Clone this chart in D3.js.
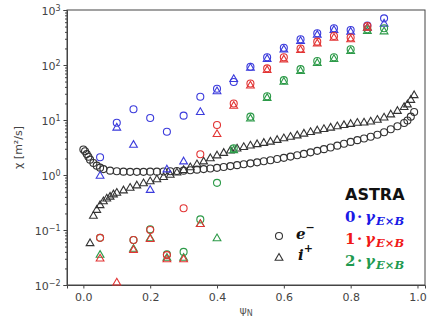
<!DOCTYPE html>
<html>
<head>
<meta charset="utf-8">
<script src="https://cdn.jsdelivr.net/npm/d3@7"></script>
<style>
  body { margin: 0; background: #fff; }
  svg { display: block; }
  .tick text { font-family: "DejaVu Sans", sans-serif; fill: #444; }
</style>
</head>
<body>
<svg id="chart"></svg>
<script>

// ---- DATA ----

// experimental-like profiles (black)
const psiE = [0.0, 0.005, 0.01, 0.015, 0.02, 0.03, 0.04, 0.05, 0.06, 0.08,
  0.10, 0.12, 0.14, 0.16, 0.18, 0.20, 0.22, 0.24, 0.26, 0.28,
  0.30, 0.32, 0.34, 0.36, 0.38, 0.40, 0.42, 0.44, 0.46, 0.48,
  0.50, 0.52, 0.54, 0.56, 0.58, 0.60, 0.62, 0.64, 0.66, 0.68,
  0.70, 0.72, 0.74, 0.76, 0.78, 0.80, 0.82, 0.84, 0.86, 0.88,
  0.90, 0.92, 0.94, 0.96, 0.97, 0.98, 0.99];
const chiE = [2.9, 2.7, 2.4, 2.15, 1.9, 1.65, 1.48, 1.36, 1.28, 1.2,
  1.17, 1.15, 1.14, 1.14, 1.14, 1.15, 1.15, 1.16, 1.17, 1.18,
  1.2, 1.22, 1.25, 1.28, 1.31, 1.35, 1.4, 1.45, 1.51, 1.57,
  1.63, 1.7, 1.78, 1.86, 1.95, 2.05, 2.16, 2.28, 2.42, 2.58,
  2.75, 2.95, 3.17, 3.42, 3.7, 4.0, 4.3, 4.6, 4.95, 5.4,
  6.0, 6.8, 7.7, 8.8, 9.8, 11.5, 14];

const psiI = [0.02, 0.03, 0.04, 0.05, 0.06, 0.07, 0.08, 0.09, 0.10, 0.12,
  0.14, 0.16, 0.18, 0.20, 0.22, 0.24, 0.26, 0.28, 0.30, 0.32,
  0.34, 0.36, 0.38, 0.40, 0.42, 0.44, 0.46, 0.48, 0.50, 0.52,
  0.54, 0.56, 0.58, 0.60, 0.62, 0.64, 0.66, 0.68, 0.70, 0.72,
  0.74, 0.76, 0.78, 0.80, 0.82, 0.84, 0.86, 0.88, 0.90, 0.92,
  0.94, 0.96, 0.97, 0.98, 0.99];
const chiI = [0.057, 0.18, 0.23, 0.28, 0.33, 0.37, 0.40, 0.44, 0.47, 0.52,
  0.58, 0.64, 0.70, 0.76, 0.83, 0.91, 1.0, 1.1, 1.22, 1.37,
  1.55, 1.75, 2.0, 2.25, 2.5, 2.75, 3.0, 3.2, 3.4, 3.6,
  3.8, 4.0, 4.3, 4.6, 4.9, 5.2, 5.6, 6.0, 6.4, 6.8,
  7.2, 7.6, 8.0, 8.4, 8.8, 8.9, 9.3, 10.0, 11, 12.5,
  14.5, 17, 19, 23, 28];

// ASTRA runs, one point every 0.05
const astraPsi = [0.05, 0.1, 0.15, 0.2, 0.25, 0.3, 0.35, 0.4, 0.45,
  0.5, 0.55, 0.6, 0.65, 0.7, 0.75, 0.8, 0.85, 0.9];

// 0 * gamma_ExB (blue)
const astraE0 = [2.1, 8.9, 15.7, 10.9, 6.1, 12, 26.5, 37, 49,
  93, 138, 206, 293, 377, 465, 433, 520, 705];
const astraI0 = [0.96, 7.2, 3.5, 0.53, 1.25, 1.75, 13.8, 33, 55,
  88, 128, 190, 270, 350, 430, 400, 470, 560];

// 1 * gamma_ExB (red)
const astraE1 = [0.072, null, 0.066, 0.1, 0.035, 0.248, 2.38, 8.1, 20,
  46, 87, 138, 200, 266, 337, 317, 510, null];
const astraI1 = [0.030, 0.011, 0.043, 0.068, 0.029, 0.029, 0.127, 5.5, 18,
  42, 80, 125, 185, 245, 310, 290, 470, null];

// 2 * gamma_ExB (green)
const astraE2 = [0.072, null, 0.066, 0.103, 0.036, 0.040, 0.156, 0.72, 3.05,
  11.5, 27, 53, 84, 118, 138, 193, 445, 466];
const astraI2 = [0.035, null, 0.045, 0.07, 0.031, 0.031, 0.127, 0.07, 2.8,
  10.5, 25, 49, 77, 108, 127, 178, 410, 405];

const xTicks = [0.0, 0.2, 0.4, 0.6, 0.8, 1.0];
const yTicks = [1e-2, 1e-1, 1e0, 1e1, 1e2, 1e3];

const colors = { black: "#333", blue: "#3b3bdc", red: "#e23434", green: "#2c9a48" };

// ---- LAYOUT ----
const width = 433, height = 321;
const plot = { left: 67, right: 425, top: 10, bottom: 285 };

const svg = d3.select("#chart")
  .attr("width", width)
  .attr("height", height);

const xScale = d3.scaleLinear()
  .domain([-0.049, 1.0225])
  .range([plot.left, plot.right]);

const yScale = d3.scaleLog()
  .domain([1e-2, 1e3])
  .range([plot.bottom, plot.top]);

// ---- AXES ----
const xAxisGroup = svg.append("g")
  .attr("transform", `translate(0, ${plot.bottom})`)
  .call(d3.axisBottom(xScale).tickValues(xTicks).tickFormat(d3.format(".1f"))
    .tickSize(3.5).tickPadding(5));
xAxisGroup.selectAll(".tick text").attr("font-size", 11);

// minor log ticks
const minor = [];
for (let e = -2; e < 3; e++) for (let m = 2; m < 10; m++) minor.push(m * Math.pow(10, e));

svg.append("g")
  .attr("transform", `translate(${plot.left}, 0)`)
  .call(d3.axisLeft(yScale).tickValues(minor).tickFormat("").tickSize(2))
  .call(g => g.select(".domain").remove());

const yAxisGroup = svg.append("g")
  .attr("transform", `translate(${plot.left}, 0)`)
  .call(d3.axisLeft(yScale).tickValues(yTicks).tickFormat("").tickSize(3.5).tickPadding(3));

yAxisGroup.selectAll(".tick text")
  .attr("font-size", 11)
  .attr("dy", "0.45em")
  .each(function(d) {
    const ex = Math.round(Math.log10(d));
    const t = d3.select(this);
    t.text("10");
    t.append("tspan")
      .attr("dy", "-0.55em")
      .attr("font-size", 8)
      .text(ex < 0 ? "\u2212" + (-ex) : ex);
  });

svg.selectAll(".domain").attr("stroke", "#444");
svg.selectAll(".tick line").attr("stroke", "#444");

// frame top and right
svg.append("rect")
  .attr("x", plot.left)
  .attr("y", plot.top)
  .attr("width", plot.right - plot.left)
  .attr("height", plot.bottom - plot.top)
  .attr("fill", "none")
  .attr("stroke", "#444")
  .attr("stroke-width", 1);

// axis labels
svg.append("text")
  .attr("transform", `translate(22, ${(plot.top + plot.bottom) / 2}) rotate(-90)`)
  .attr("text-anchor", "middle")
  .attr("font-family", "DejaVu Sans, sans-serif")
  .attr("font-size", 11)
  .attr("fill", "#444")
  .text("\u03c7 [m\u00b2/s]");

const xLabel = svg.append("text")
  .attr("x", 246)
  .attr("y", 314)
  .attr("text-anchor", "middle")
  .attr("font-family", "DejaVu Sans, sans-serif")
  .attr("font-size", 11)
  .attr("fill", "#555")
  .text("\u03c8");
xLabel.append("tspan").attr("font-size", 8).attr("dy", 2).text("N");

// ---- MARKERS ----
const tri = d3.symbol(d3.symbolTriangle, 26);

function drawCircles(cls, xs, ys, color) {
  const pts = xs.map((x, i) => ({ x, y: ys[i] })).filter(d => d.y != null);
  svg.selectAll("." + cls)
    .data(pts)
    .join("circle")
    .attr("class", cls)
    .attr("cx", d => xScale(d.x))
    .attr("cy", d => yScale(d.y))
    .attr("r", 3.5)
    .attr("fill", "none")
    .attr("stroke", color)
    .attr("stroke-width", 1.1);
}

function drawTriangles(cls, xs, ys, color) {
  const pts = xs.map((x, i) => ({ x, y: ys[i] })).filter(d => d.y != null);
  svg.selectAll("." + cls)
    .data(pts)
    .join("path")
    .attr("class", cls)
    .attr("d", tri)
    .attr("transform", d => `translate(${xScale(d.x)}, ${yScale(d.y)})`)
    .attr("fill", "none")
    .attr("stroke", color)
    .attr("stroke-width", 1.1);
}

drawCircles("e-black", psiE, chiE, colors.black);
drawTriangles("i-black", psiI, chiI, colors.black);

drawCircles("e0", astraPsi, astraE0, colors.blue);
drawTriangles("i0", astraPsi, astraI0, colors.blue);
drawCircles("e2", astraPsi, astraE2, colors.green);
drawTriangles("i2", astraPsi, astraI2, colors.green);
drawCircles("e1", astraPsi, astraE1, colors.red);
drawTriangles("i1", astraPsi, astraI1, colors.red);

// ---- LEGEND ----
svg.append("circle")
  .attr("cx", 279).attr("cy", 236).attr("r", 3.5)
  .attr("fill", "none").attr("stroke", colors.black).attr("stroke-width", 1.1);
svg.append("path")
  .attr("d", tri).attr("transform", "translate(279, 258)")
  .attr("fill", "none").attr("stroke", colors.black).attr("stroke-width", 1.1);

const serif = "DejaVu Serif, serif";
const eText = svg.append("text")
  .attr("x", 296).attr("y", 239)
  .attr("font-family", serif).attr("font-weight", "bold").attr("font-style", "italic")
  .attr("font-size", 15).attr("fill", "#111")
  .text("e");
eText.append("tspan").attr("dy", -8).attr("font-size", 11).text("\u2212");

const iText = svg.append("text")
  .attr("x", 298).attr("y", 260)
  .attr("font-family", serif).attr("font-weight", "bold").attr("font-style", "italic")
  .attr("font-size", 15).attr("fill", "#111")
  .text("i");
iText.append("tspan").attr("dy", -8).attr("font-size", 11).text("+");

svg.append("text")
  .attr("x", 345).attr("y", 200)
  .attr("font-family", "DejaVu Sans, sans-serif").attr("font-weight", "bold")
  .attr("font-size", 16).attr("fill", "#111")
  .text("ASTRA");

const gammaRows = [
  { n: "0", color: "#1a1ae6", y: 222 },
  { n: "1", color: "#f01818", y: 244 },
  { n: "2", color: "#1f9a50", y: 266 }
];

gammaRows.forEach(r => {
  const t = svg.append("text")
    .attr("y", r.y)
    .attr("font-family", serif).attr("font-weight", "bold")
    .attr("font-size", 15).attr("fill", r.color);
  t.append("tspan").attr("x", 345).text(r.n);
  t.append("tspan").attr("x", 357).text("\u00b7");
  t.append("tspan").attr("x", 365).attr("font-style", "italic").text("\u03b3");
  t.append("tspan").attr("x", 376).attr("dy", 3).attr("font-style", "italic")
    .attr("font-size", 11.5).text("E\u00d7B");
});

</script>
</body>
</html>
